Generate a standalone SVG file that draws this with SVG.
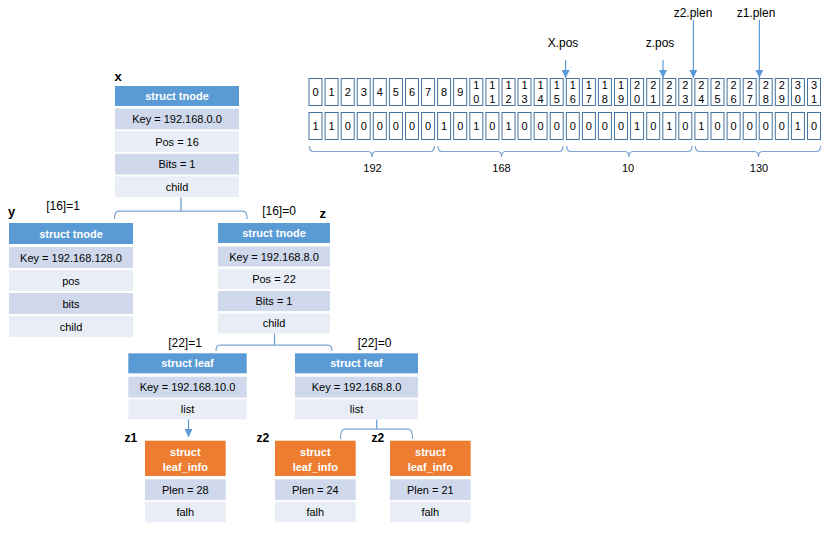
<svg xmlns="http://www.w3.org/2000/svg" width="824" height="538" viewBox="0 0 824 538">
<style>
text{font-family:"Liberation Sans",Arial,sans-serif;fill:#000}
.hdr{fill:#5b9bd5}
.org{fill:#ed7d31}
.r1{fill:#cfd9eb}
.r2{fill:#e9eef6}
.ht{font-size:11px;font-weight:bold;fill:#fff;text-anchor:middle}
.rt{font-size:11px;text-anchor:middle}
.lbl{font-size:12px;text-anchor:middle}
.nm{font-size:13px;font-weight:bold}
.zl{font-size:12px;font-weight:bold}
.cell{fill:#fff;stroke:#44729d;stroke-width:1}
.d{font-size:11px;text-anchor:middle}
.con{fill:none;stroke:#5b9bd5;stroke-width:1.2}
.br{fill:none;stroke:#7aa3cf;stroke-width:1.2}
</style>
<defs>
<marker id="arr" markerUnits="userSpaceOnUse" markerWidth="8" markerHeight="8" viewBox="0 0 8 8" refX="4" refY="8" orient="auto-start-reverse">
<path d="M0,0 L8,0 L4,8 Z" fill="#5b9bd5" transform="rotate(0)"/>
</marker>
<marker id="arrd" markerUnits="userSpaceOnUse" markerWidth="8" markerHeight="8" viewBox="0 0 8 8" refX="8" refY="4" orient="auto">
<path d="M0,0 L8,4 L0,8 Z" fill="#5b9bd5"/>
</marker>
</defs>

<g id="bitfield">
<g id="index-row">
<rect class="cell" x="309" y="78.5" width="13" height="27"/><text class="d" x="315.5" y="96">0</text>
<rect class="cell" x="325.1" y="78.5" width="13" height="27"/><text class="d" x="331.6" y="96">1</text>
<rect class="cell" x="341.2" y="78.5" width="13" height="27"/><text class="d" x="347.7" y="96">2</text>
<rect class="cell" x="357.2" y="78.5" width="13" height="27"/><text class="d" x="363.7" y="96">3</text>
<rect class="cell" x="373.3" y="78.5" width="13" height="27"/><text class="d" x="379.8" y="96">4</text>
<rect class="cell" x="389.4" y="78.5" width="13" height="27"/><text class="d" x="395.9" y="96">5</text>
<rect class="cell" x="405.5" y="78.5" width="13" height="27"/><text class="d" x="412" y="96">6</text>
<rect class="cell" x="421.6" y="78.5" width="13" height="27"/><text class="d" x="428.1" y="96">7</text>
<rect class="cell" x="437.6" y="78.5" width="13" height="27"/><text class="d" x="444.1" y="96">8</text>
<rect class="cell" x="453.7" y="78.5" width="13" height="27"/><text class="d" x="460.2" y="96">9</text>
<rect class="cell" x="469.8" y="78.5" width="13" height="27"/><text class="d" x="476.3" y="89">1</text><text class="d" x="476.3" y="103">0</text>
<rect class="cell" x="485.9" y="78.5" width="13" height="27"/><text class="d" x="492.4" y="89">1</text><text class="d" x="492.4" y="103">1</text>
<rect class="cell" x="502" y="78.5" width="13" height="27"/><text class="d" x="508.5" y="89">1</text><text class="d" x="508.5" y="103">2</text>
<rect class="cell" x="518" y="78.5" width="13" height="27"/><text class="d" x="524.5" y="89">1</text><text class="d" x="524.5" y="103">3</text>
<rect class="cell" x="534.1" y="78.5" width="13" height="27"/><text class="d" x="540.6" y="89">1</text><text class="d" x="540.6" y="103">4</text>
<rect class="cell" x="550.2" y="78.5" width="13" height="27"/><text class="d" x="556.7" y="89">1</text><text class="d" x="556.7" y="103">5</text>
<rect class="cell" x="566.3" y="78.5" width="13" height="27"/><text class="d" x="572.8" y="89">1</text><text class="d" x="572.8" y="103">6</text>
<rect class="cell" x="582.4" y="78.5" width="13" height="27"/><text class="d" x="588.9" y="89">1</text><text class="d" x="588.9" y="103">7</text>
<rect class="cell" x="598.4" y="78.5" width="13" height="27"/><text class="d" x="604.9" y="89">1</text><text class="d" x="604.9" y="103">8</text>
<rect class="cell" x="614.5" y="78.5" width="13" height="27"/><text class="d" x="621" y="89">1</text><text class="d" x="621" y="103">9</text>
<rect class="cell" x="630.6" y="78.5" width="13" height="27"/><text class="d" x="637.1" y="89">2</text><text class="d" x="637.1" y="103">0</text>
<rect class="cell" x="646.7" y="78.5" width="13" height="27"/><text class="d" x="653.2" y="89">2</text><text class="d" x="653.2" y="103">1</text>
<rect class="cell" x="662.8" y="78.5" width="13" height="27"/><text class="d" x="669.3" y="89">2</text><text class="d" x="669.3" y="103">2</text>
<rect class="cell" x="678.8" y="78.5" width="13" height="27"/><text class="d" x="685.3" y="89">2</text><text class="d" x="685.3" y="103">3</text>
<rect class="cell" x="694.9" y="78.5" width="13" height="27"/><text class="d" x="701.4" y="89">2</text><text class="d" x="701.4" y="103">4</text>
<rect class="cell" x="711" y="78.5" width="13" height="27"/><text class="d" x="717.5" y="89">2</text><text class="d" x="717.5" y="103">5</text>
<rect class="cell" x="727.1" y="78.5" width="13" height="27"/><text class="d" x="733.6" y="89">2</text><text class="d" x="733.6" y="103">6</text>
<rect class="cell" x="743.2" y="78.5" width="13" height="27"/><text class="d" x="749.7" y="89">2</text><text class="d" x="749.7" y="103">7</text>
<rect class="cell" x="759.2" y="78.5" width="13" height="27"/><text class="d" x="765.7" y="89">2</text><text class="d" x="765.7" y="103">8</text>
<rect class="cell" x="775.3" y="78.5" width="13" height="27"/><text class="d" x="781.8" y="89">2</text><text class="d" x="781.8" y="103">9</text>
<rect class="cell" x="791.4" y="78.5" width="13" height="27"/><text class="d" x="797.9" y="89">3</text><text class="d" x="797.9" y="103">0</text>
<rect class="cell" x="807.5" y="78.5" width="13" height="27"/><text class="d" x="814" y="89">3</text><text class="d" x="814" y="103">1</text>
</g>
<g id="value-row">
<rect class="cell" x="309" y="112.5" width="13" height="27"/><text class="d" x="315.5" y="130">1</text>
<rect class="cell" x="325.1" y="112.5" width="13" height="27"/><text class="d" x="331.6" y="130">1</text>
<rect class="cell" x="341.2" y="112.5" width="13" height="27"/><text class="d" x="347.7" y="130">0</text>
<rect class="cell" x="357.2" y="112.5" width="13" height="27"/><text class="d" x="363.7" y="130">0</text>
<rect class="cell" x="373.3" y="112.5" width="13" height="27"/><text class="d" x="379.8" y="130">0</text>
<rect class="cell" x="389.4" y="112.5" width="13" height="27"/><text class="d" x="395.9" y="130">0</text>
<rect class="cell" x="405.5" y="112.5" width="13" height="27"/><text class="d" x="412" y="130">0</text>
<rect class="cell" x="421.6" y="112.5" width="13" height="27"/><text class="d" x="428.1" y="130">0</text>
<rect class="cell" x="437.6" y="112.5" width="13" height="27"/><text class="d" x="444.1" y="130">1</text>
<rect class="cell" x="453.7" y="112.5" width="13" height="27"/><text class="d" x="460.2" y="130">0</text>
<rect class="cell" x="469.8" y="112.5" width="13" height="27"/><text class="d" x="476.3" y="130">1</text>
<rect class="cell" x="485.9" y="112.5" width="13" height="27"/><text class="d" x="492.4" y="130">0</text>
<rect class="cell" x="502" y="112.5" width="13" height="27"/><text class="d" x="508.5" y="130">1</text>
<rect class="cell" x="518" y="112.5" width="13" height="27"/><text class="d" x="524.5" y="130">0</text>
<rect class="cell" x="534.1" y="112.5" width="13" height="27"/><text class="d" x="540.6" y="130">0</text>
<rect class="cell" x="550.2" y="112.5" width="13" height="27"/><text class="d" x="556.7" y="130">0</text>
<rect class="cell" x="566.3" y="112.5" width="13" height="27"/><text class="d" x="572.8" y="130">0</text>
<rect class="cell" x="582.4" y="112.5" width="13" height="27"/><text class="d" x="588.9" y="130">0</text>
<rect class="cell" x="598.4" y="112.5" width="13" height="27"/><text class="d" x="604.9" y="130">0</text>
<rect class="cell" x="614.5" y="112.5" width="13" height="27"/><text class="d" x="621" y="130">0</text>
<rect class="cell" x="630.6" y="112.5" width="13" height="27"/><text class="d" x="637.1" y="130">1</text>
<rect class="cell" x="646.7" y="112.5" width="13" height="27"/><text class="d" x="653.2" y="130">0</text>
<rect class="cell" x="662.8" y="112.5" width="13" height="27"/><text class="d" x="669.3" y="130">1</text>
<rect class="cell" x="678.8" y="112.5" width="13" height="27"/><text class="d" x="685.3" y="130">0</text>
<rect class="cell" x="694.9" y="112.5" width="13" height="27"/><text class="d" x="701.4" y="130">1</text>
<rect class="cell" x="711" y="112.5" width="13" height="27"/><text class="d" x="717.5" y="130">0</text>
<rect class="cell" x="727.1" y="112.5" width="13" height="27"/><text class="d" x="733.6" y="130">0</text>
<rect class="cell" x="743.2" y="112.5" width="13" height="27"/><text class="d" x="749.7" y="130">0</text>
<rect class="cell" x="759.2" y="112.5" width="13" height="27"/><text class="d" x="765.7" y="130">0</text>
<rect class="cell" x="775.3" y="112.5" width="13" height="27"/><text class="d" x="781.8" y="130">0</text>
<rect class="cell" x="791.4" y="112.5" width="13" height="27"/><text class="d" x="797.9" y="130">1</text>
<rect class="cell" x="807.5" y="112.5" width="13" height="27"/><text class="d" x="814" y="130">0</text>
</g>
<g id="byte-braces">
<path class="br" d="M309.5,146 Q309.5,151.5 313.5,151.5 H368 Q372,151.5 372,157 Q372,151.5 376,151.5 H430.5 Q434.5,151.5 434.5,146"/>
<path class="br" d="M438,146 Q438,151.5 442,151.5 H497.5 Q501.5,151.5 501.5,157 Q501.5,151.5 505.5,151.5 H559 Q563,151.5 563,146"/>
<path class="br" d="M566.8,146 Q566.8,151.5 570.8,151.5 H625 Q629,151.5 629,157 Q629,151.5 633,151.5 H688 Q692,151.5 692,146"/>
<path class="br" d="M695.4,146 Q695.4,151.5 699.4,151.5 H754.5 Q758.5,151.5 758.5,157 Q758.5,151.5 762.5,151.5 H816.5 Q820.5,151.5 820.5,146"/>
<text class="rt" x="372.5" y="172">192</text>
<text class="rt" x="501.5" y="172">168</text>
<text class="rt" x="628" y="172">10</text>
<text class="rt" x="759" y="172">130</text>
</g>
<g id="pointers">
<line class="con" x1="565.6" y1="60" x2="565.6" y2="78" marker-end="url(#arrd)"/>
<line class="con" x1="663" y1="60" x2="663" y2="78" marker-end="url(#arrd)"/>
<line class="con" x1="693.4" y1="20" x2="693.4" y2="78" marker-end="url(#arrd)"/>
<line class="con" x1="759.4" y1="20" x2="759.4" y2="78" marker-end="url(#arrd)"/>
<text class="lbl" x="563" y="47">X.pos</text>
<text class="lbl" x="660" y="47">z.pos</text>
<text class="lbl" x="693" y="17">z2.plen</text>
<text class="lbl" x="756" y="17">z1.plen</text>
</g>
</g>

<g id="connectors">
<path class="con" d="M181,197.5 V211"/>
<path class="br" d="M114.5,219 Q114.5,211.2 118.5,211.2 H243 Q247,211.2 247,219"/>
<path class="con" d="M274.5,333.5 V345"/>
<path class="br" d="M216,351 Q216,345.2 220,345.2 H328 Q332,345.2 332,351"/>
<line class="con" x1="188.5" y1="419.5" x2="188.5" y2="437" marker-end="url(#arrd)"/>
<path class="con" d="M376.7,419.5 V429"/>
<path class="br" d="M340.5,439 Q340.5,429.2 344.5,429.2 H408.5 Q412.5,429.2 412.5,439"/>
<text class="lbl" x="63" y="210">[16]=1</text>
<text class="lbl" x="279" y="215">[16]=0</text>
<text class="lbl" x="185" y="346.5">[22]=1</text>
<text class="lbl" x="374.5" y="346.5">[22]=0</text>
</g>

<g id="node-x">
<text class="nm" x="114.5" y="80.5">x</text>
<rect class="hdr" x="115" y="86" width="124" height="20"/>
<text class="ht" x="177" y="100">struct tnode</text>
<rect class="r1" x="115" y="108.6" width="124" height="20.8"/>
<text class="rt" x="177" y="123">Key = 192.168.0.0</text>
<rect class="r2" x="115" y="131.2" width="124" height="20.8"/>
<text class="rt" x="177" y="145.6">Pos = 16</text>
<rect class="r1" x="115" y="153.8" width="124" height="20.8"/>
<text class="rt" x="177" y="168.2">Bits = 1</text>
<rect class="r2" x="115" y="176.4" width="124" height="20.8"/>
<text class="rt" x="177" y="190.8">child</text>
</g>

<g id="node-y">
<text class="nm" x="8" y="216">y</text>
<rect class="hdr" x="9" y="223" width="124" height="21"/>
<text class="ht" x="71" y="237.5">struct tnode</text>
<rect class="r1" x="9" y="247" width="124" height="21"/>
<text class="rt" x="71" y="261.5">Key = 192.168.128.0</text>
<rect class="r2" x="9" y="270" width="124" height="21"/>
<text class="rt" x="71" y="284.5">pos</text>
<rect class="r1" x="9" y="293" width="124" height="21"/>
<text class="rt" x="71" y="307.5">bits</text>
<rect class="r2" x="9" y="316" width="124" height="21"/>
<text class="rt" x="71" y="330.5">child</text>
</g>

<g id="node-z">
<text class="nm" x="319.5" y="217.5">z</text>
<rect class="hdr" x="218" y="223" width="112" height="20"/>
<text class="ht" x="274" y="237">struct tnode</text>
<rect class="r1" x="218" y="246.5" width="112" height="20"/>
<text class="rt" x="274" y="260.5">Key = 192.168.8.0</text>
<rect class="r2" x="218" y="268.8" width="112" height="20"/>
<text class="rt" x="274" y="282.8">Pos = 22</text>
<rect class="r1" x="218" y="291.1" width="112" height="20"/>
<text class="rt" x="274" y="305.1">Bits = 1</text>
<rect class="r2" x="218" y="313.4" width="112" height="20"/>
<text class="rt" x="274" y="327.4">child</text>
</g>

<g id="leaf-1">
<rect class="hdr" x="128.3" y="353.3" width="118.4" height="20"/>
<text class="ht" x="187.5" y="367.3">struct leaf</text>
<rect class="r1" x="128.3" y="376.7" width="118.4" height="20.8"/>
<text class="rt" x="187.5" y="391">Key = 192.168.10.0</text>
<rect class="r2" x="128.3" y="399.3" width="118.4" height="20"/>
<text class="rt" x="187.5" y="413.3">list</text>
</g>

<g id="leaf-2">
<rect class="hdr" x="295" y="353.3" width="123" height="20"/>
<text class="ht" x="356.5" y="367.3">struct leaf</text>
<rect class="r1" x="295" y="376.7" width="123" height="20.8"/>
<text class="rt" x="356.5" y="391">Key = 192.168.8.0</text>
<rect class="r2" x="295" y="399.3" width="123" height="20"/>
<text class="rt" x="356.5" y="413.3">list</text>
</g>

<g id="leafinfo-z1">
<text class="zl" x="124.5" y="442">z1</text>
<rect class="org" x="145" y="440.7" width="80.7" height="35.3"/>
<text class="ht" x="185.3" y="456">struct</text>
<text class="ht" x="185.3" y="470.5">leaf_info</text>
<rect class="r1" x="145" y="479.3" width="80.7" height="20.7"/>
<text class="rt" x="185.3" y="493.6">Plen = 28</text>
<rect class="r2" x="145" y="501.7" width="80.7" height="20.6"/>
<text class="rt" x="185.3" y="516">falh</text>
</g>

<g id="leafinfo-z2a">
<text class="zl" x="256.5" y="442">z2</text>
<rect class="org" x="275" y="440.7" width="80.7" height="35.3"/>
<text class="ht" x="315.3" y="456">struct</text>
<text class="ht" x="315.3" y="470.5">leaf_info</text>
<rect class="r1" x="275" y="479.3" width="80.7" height="20.7"/>
<text class="rt" x="315.3" y="493.6">Plen = 24</text>
<rect class="r2" x="275" y="501.7" width="80.7" height="20.6"/>
<text class="rt" x="315.3" y="516">falh</text>
</g>

<g id="leafinfo-z2b">
<text class="zl" x="371.5" y="442">z2</text>
<rect class="org" x="390" y="440.7" width="80.7" height="35.3"/>
<text class="ht" x="430.3" y="456">struct</text>
<text class="ht" x="430.3" y="470.5">leaf_info</text>
<rect class="r1" x="390" y="479.3" width="80.7" height="20.7"/>
<text class="rt" x="430.3" y="493.6">Plen = 21</text>
<rect class="r2" x="390" y="501.7" width="80.7" height="20.6"/>
<text class="rt" x="430.3" y="516">falh</text>
</g>
</svg>
